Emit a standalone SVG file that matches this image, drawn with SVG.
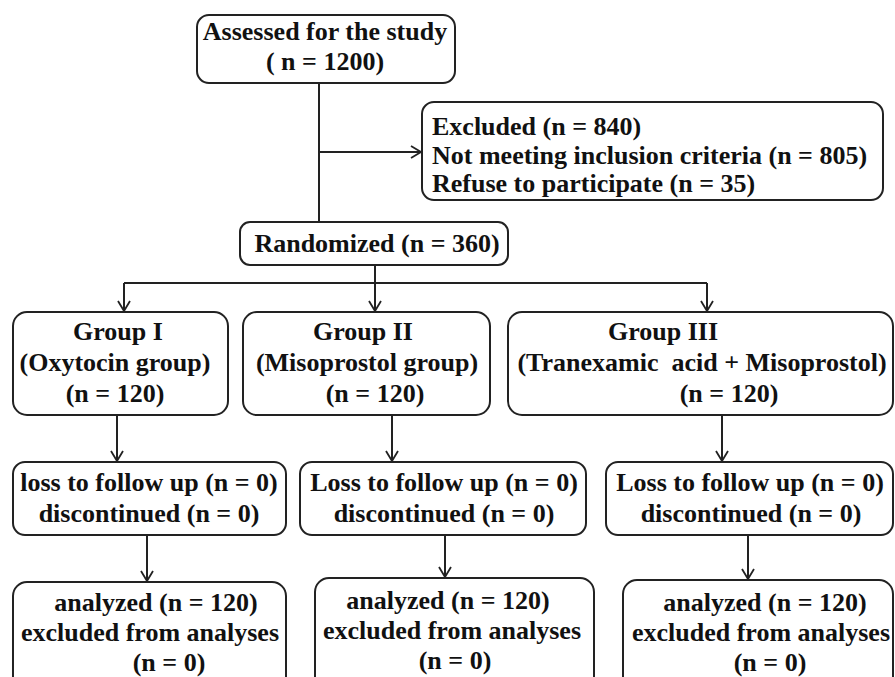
<svg xmlns="http://www.w3.org/2000/svg" width="895" height="677" viewBox="0 0 895 677">
<style>
.box{fill:#fff;stroke:#222;stroke-width:2}
.t{font-family:"Liberation Serif","Times New Roman",serif;font-weight:bold;font-size:26px;fill:#111;white-space:pre}
.c{text-anchor:middle}
.ln{fill:none;stroke:#222;stroke-width:2}
</style>
<defs>
<marker id="ah" markerWidth="14" markerHeight="14" refX="12" refY="7" orient="auto" markerUnits="userSpaceOnUse">
<path d="M2,1 L12,7 L2,13" fill="none" stroke="#222" stroke-width="1.8"/>
</marker>
</defs>
<g id="connectors">
<path class="ln" d="M319,83 V222"/>
<path class="ln" d="M319,152 H421" marker-end="url(#ah)"/>
<path class="ln" d="M375,265 V311" marker-end="url(#ah)"/>
<path class="ln" d="M124,283 H707"/>
<path class="ln" d="M124,283 V311" marker-end="url(#ah)"/>
<path class="ln" d="M707,283 V311" marker-end="url(#ah)"/>
<path class="ln" d="M117,415 V461" marker-end="url(#ah)"/>
<path class="ln" d="M392,415 V461" marker-end="url(#ah)"/>
<path class="ln" d="M722,415 V461" marker-end="url(#ah)"/>
<path class="ln" d="M147,535 V581" marker-end="url(#ah)"/>
<path class="ln" d="M445,535 V577" marker-end="url(#ah)"/>
<path class="ln" d="M748,535 V579" marker-end="url(#ah)"/>
</g>
<g id="assessed">
<rect class="box" x="197" y="15" width="258" height="68" rx="12"/>
<text class="t c" x="325" y="40">Assessed for the study</text>
<text class="t c" x="325" y="70">( n = 1200)</text>
</g>
<g id="excluded">
<rect class="box" x="422" y="102" width="461" height="98" rx="12"/>
<text class="t" x="432" y="135">Excluded (n = 840)</text>
<text class="t" x="432" y="164">Not meeting inclusion criteria (n = 805)</text>
<text class="t" x="432" y="192">Refuse to participate (n = 35)</text>
</g>
<g id="randomized">
<rect class="box" x="240" y="222" width="268" height="43" rx="10"/>
<text class="t c" x="377" y="252">Randomized (n = 360)</text>
</g>
<g id="group1">
<rect class="box" x="13" y="312" width="215" height="103" rx="14"/>
<text class="t c" x="118" y="340">Group I</text>
<text class="t c" x="115" y="371">(Oxytocin group)</text>
<text class="t c" x="115" y="402">(n = 120)</text>
</g>
<g id="group2">
<rect class="box" x="243" y="312" width="247" height="103" rx="14"/>
<text class="t c" x="363" y="340">Group II</text>
<text class="t c" x="367" y="371">(Misoprostol group)</text>
<text class="t c" x="375" y="402">(n = 120)</text>
</g>
<g id="group3">
<rect class="box" x="508" y="312" width="385" height="103" rx="14"/>
<text class="t c" x="663" y="340">Group III</text>
<text class="t c" x="702" y="371">(Tranexamic  acid + Misoprostol)</text>
<text class="t c" x="729" y="402">(n = 120)</text>
</g>
<g id="loss1">
<rect class="box" x="13" y="462" width="273" height="73" rx="12"/>
<text class="t c" x="149" y="491">loss to follow up (n = 0)</text>
<text class="t c" x="149" y="522">discontinued (n = 0)</text>
</g>
<g id="loss2">
<rect class="box" x="300" y="462" width="286" height="73" rx="12"/>
<text class="t c" x="444" y="491">Loss to follow up (n = 0)</text>
<text class="t c" x="444" y="522">discontinued (n = 0)</text>
</g>
<g id="loss3">
<rect class="box" x="606" y="462" width="287" height="73" rx="12"/>
<text class="t c" x="750" y="491">Loss to follow up (n = 0)</text>
<text class="t c" x="751" y="522">discontinued (n = 0)</text>
</g>
<g id="analyzed1">
<rect class="box" x="13" y="582" width="273" height="110" rx="14"/>
<text class="t c" x="156" y="611">analyzed (n = 120)</text>
<text class="t c" x="150" y="641">excluded from analyses</text>
<text class="t c" x="169" y="671">(n = 0)</text>
</g>
<g id="analyzed2">
<rect class="box" x="315" y="578" width="279" height="114" rx="14"/>
<text class="t c" x="448" y="609">analyzed (n = 120)</text>
<text class="t c" x="452" y="639">excluded from analyses</text>
<text class="t c" x="455" y="669">(n = 0)</text>
</g>
<g id="analyzed3">
<rect class="box" x="623" y="580" width="270" height="112" rx="14"/>
<text class="t c" x="765" y="611">analyzed (n = 120)</text>
<text class="t c" x="761" y="641">excluded from analyses</text>
<text class="t c" x="770" y="671">(n = 0)</text>
</g>
</svg>
